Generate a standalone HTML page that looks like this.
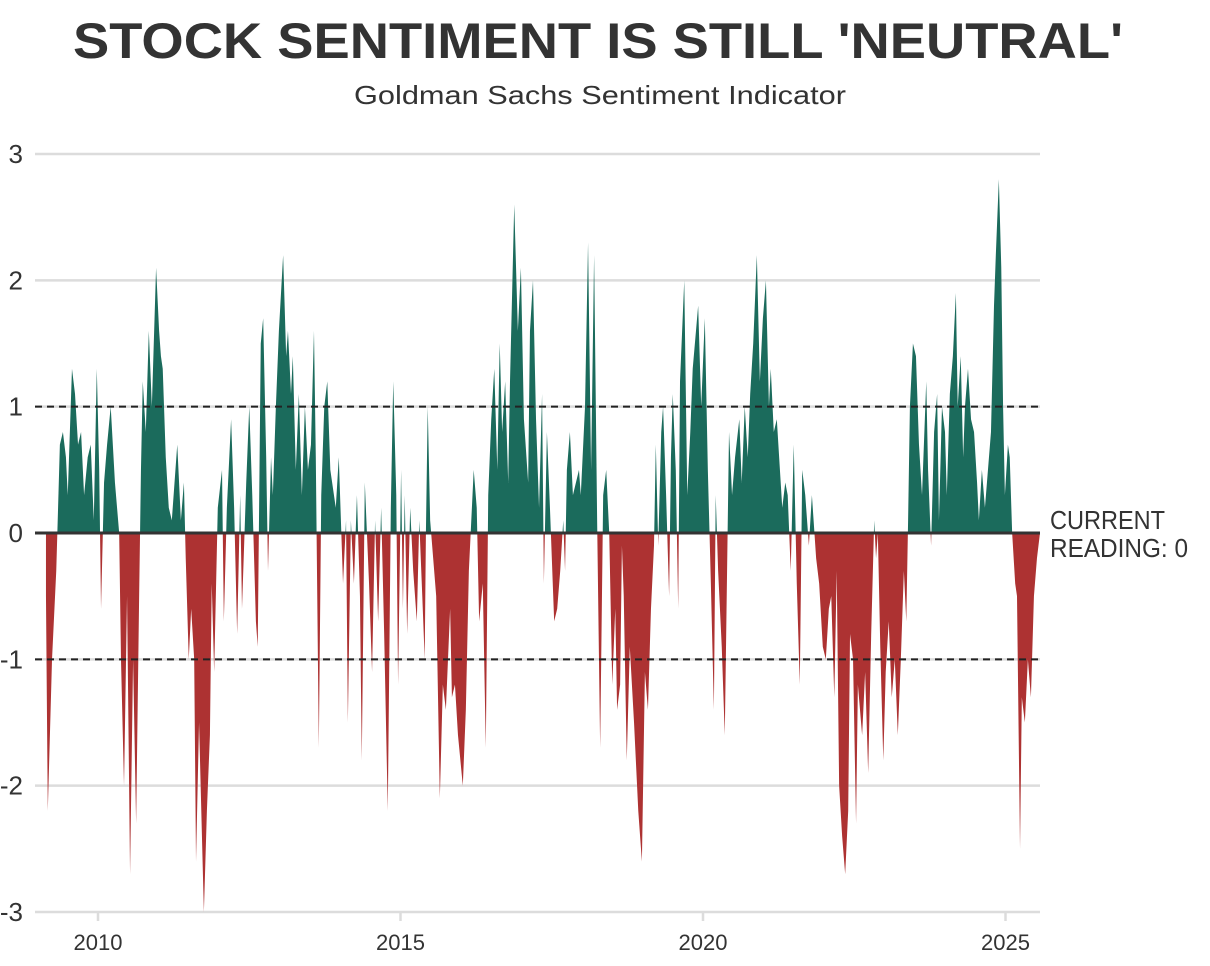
<!DOCTYPE html>
<html><head><meta charset="utf-8">
<style>
html,body{margin:0;padding:0;background:#fff;}
svg{display:block;font-family:"Liberation Sans",sans-serif;}
</style></head>
<body>
<svg id="chart" width="1210" height="966" viewBox="0 0 1210 966" xmlns="http://www.w3.org/2000/svg">
  <text x="598" y="58" text-anchor="middle" font-size="50" font-weight="bold" fill="#333" textLength="1050" lengthAdjust="spacingAndGlyphs">STOCK SENTIMENT IS STILL 'NEUTRAL'</text>
  <text x="600" y="104" text-anchor="middle" font-size="26" fill="#333" textLength="492" lengthAdjust="spacingAndGlyphs">Goldman Sachs Sentiment Indicator</text>
  <g id="grid"></g>
  <g id="marks"></g>
  <g id="overlay"></g>
  <text x="1050" y="529" font-size="26" fill="#333" textLength="115" lengthAdjust="spacingAndGlyphs">CURRENT</text>
  <text x="1050" y="557" font-size="26" fill="#333" textLength="138" lengthAdjust="spacingAndGlyphs">READING: 0</text>
</svg>
<script>
const yTicks = [3,2,1,0,-1,-2,-3];
const xTicks = [2010,2015,2020,2025];
const refLines = [1,-1];
const dates = [
2009.14,2009.17,2009.24,2009.31,2009.34,2009.37,2009.42,2009.47,2009.50,2009.57,2009.62,2009.67,2009.72,2009.77,2009.83,2009.88,2009.93,2009.98,
2010.02,2010.05,2010.10,2010.15,2010.21,2010.28,2010.35,2010.38,2010.43,2010.48,2010.53,2010.58,2010.63,2010.68,2010.71,2010.74,2010.79,2010.84,2010.89,2010.96,2011.01,
2011.04,2011.07,2011.12,2011.17,2011.22,2011.31,2011.37,2011.42,2011.45,2011.50,2011.54,2011.59,2011.62,2011.67,2011.75,2011.80,2011.85,2011.88,2011.92,2011.98,
2012.05,2012.08,2012.13,2012.20,2012.25,2012.30,2012.35,2012.38,2012.45,2012.50,2012.55,2012.61,2012.64,2012.69,2012.73,2012.78,2012.81,2012.86,2012.89,2012.94,2012.99,
2013.06,2013.11,2013.14,2013.19,2013.22,2013.27,2013.32,2013.37,2013.42,2013.47,2013.52,2013.57,2013.60,2013.65,2013.69,2013.74,2013.79,2013.84,2013.93,2013.98,
2014.05,2014.10,2014.13,2014.18,2014.23,2014.28,2014.33,2014.36,2014.41,2014.48,2014.53,2014.58,2014.63,2014.68,2014.73,2014.79,2014.84,2014.88,2014.93,2014.96,
2015.01,2015.04,2015.07,2015.11,2015.16,2015.21,2015.27,2015.31,2015.36,2015.40,2015.42,2015.45,2015.49,2015.54,2015.59,2015.65,2015.70,2015.75,2015.82,2015.85,2015.90,2015.95,
2016.03,2016.08,2016.13,2016.21,2016.26,2016.30,2016.36,2016.41,2016.45,2016.50,2016.55,2016.60,2016.64,2016.68,2016.73,2016.78,2016.81,2016.88,2016.94,2016.99,
2017.04,2017.11,2017.14,2017.19,2017.24,2017.29,2017.34,2017.37,2017.42,2017.47,2017.54,2017.59,2017.64,2017.69,2017.72,2017.75,2017.80,2017.85,2017.90,2017.95,2017.98,
2018.05,2018.10,2018.15,2018.20,2018.25,2018.30,2018.35,2018.40,2018.45,2018.50,2018.55,2018.58,2018.63,2018.66,2018.69,2018.74,2018.79,2018.86,2018.93,2018.99,
2019.04,2019.09,2019.14,2019.19,2019.22,2019.26,2019.31,2019.34,2019.39,2019.44,2019.47,2019.50,2019.55,2019.59,2019.62,2019.69,2019.74,2019.79,2019.83,2019.92,2019.97,
2020.03,2020.08,2020.13,2020.18,2020.21,2020.25,2020.31,2020.36,2020.43,2020.48,2020.53,2020.60,2020.64,2020.69,2020.74,2020.78,2020.83,2020.89,2020.94,2020.99,
2021.04,2021.09,2021.12,2021.17,2021.22,2021.31,2021.36,2021.40,2021.45,2021.50,2021.55,2021.60,2021.64,2021.69,2021.75,2021.80,2021.87,2021.92,2021.98,
2022.03,2022.08,2022.12,2022.17,2022.21,2022.25,2022.30,2022.35,2022.40,2022.43,2022.48,2022.53,2022.56,2022.63,2022.68,2022.73,2022.78,2022.83,2022.86,2022.89,2022.93,2022.98,
2023.02,2023.07,2023.12,2023.17,2023.22,2023.27,2023.32,2023.36,2023.39,2023.42,2023.47,2023.52,2023.57,2023.62,2023.69,2023.72,2023.77,2023.82,2023.87,2023.90,2023.95,
2024.00,2024.03,2024.08,2024.13,2024.18,2024.21,2024.26,2024.30,2024.33,2024.38,2024.43,2024.48,2024.53,2024.56,2024.61,2024.66,2024.71,2024.76,2024.81,2024.84,2024.89,2024.93,2024.96,2024.99,
2025.04,2025.07,2025.11,2025.16,2025.19,2025.24,2025.27,2025.32,2025.37,2025.42,2025.47,2025.52,2025.57
];
const values = [
-0.5,-2.2,-1.0,-0.3,0.2,0.7,0.8,0.6,0.3,1.3,1.1,0.7,0.8,0.3,0.6,0.7,0.1,1.3,
0.5,-0.6,0.4,0.7,1.0,0.4,0.0,-1.0,-2.0,-0.5,-2.7,-1.0,-2.3,-0.5,0.5,1.2,0.8,1.6,1.0,2.1,1.6,
1.4,1.3,0.6,0.2,0.1,0.7,0.1,0.4,-0.2,-1.0,-0.6,-1.0,-2.6,-1.5,-3.0,-2.2,-1.6,-0.4,-1.1,0.2,
0.5,-0.7,0.2,0.9,0.2,-0.8,0.3,-0.6,0.4,1.0,0.3,-0.7,-0.9,1.5,1.7,0.6,-0.3,0.6,0.3,1.0,1.6,
2.2,1.4,1.6,1.1,1.4,0.5,1.1,0.3,1.0,0.5,0.7,1.6,0.6,-1.7,0.3,1.0,1.2,0.5,0.2,0.6,
-0.4,0.1,-1.5,0.1,-0.4,0.3,-0.5,-1.8,0.4,-0.4,-1.1,0.1,-0.7,0.2,-0.8,-2.2,0.2,1.2,0.3,-1.2,
0.5,-0.6,0.3,-0.8,0.2,-0.3,-0.7,0.1,-0.5,-1.0,0.0,1.0,0.1,-0.2,-0.5,-2.1,-1.2,-1.4,-0.6,-1.3,-1.2,-1.6,
-2.0,-1.4,-0.3,0.5,0.2,-0.7,-0.4,-1.7,0.3,0.9,1.3,0.5,1.5,0.8,1.2,0.4,1.2,2.6,1.6,2.1,
0.9,0.4,1.6,2.0,0.9,0.2,1.1,-0.4,0.8,0.2,-0.7,-0.6,-0.3,0.1,-0.3,0.5,0.8,0.3,0.4,0.5,0.3,
1.0,2.3,0.5,2.2,0.1,-1.7,0.3,0.5,0.0,-1.2,-0.6,-1.4,-1.2,-0.1,-0.5,-1.8,-0.9,-1.5,-2.2,-2.6,
-1.1,-1.4,-0.6,-0.1,0.7,-0.1,0.8,1.0,0.3,-0.5,0.6,1.1,0.5,-0.6,1.2,2.0,0.3,0.8,1.3,1.8,1.0,
1.7,0.5,-0.4,-1.4,0.3,-0.3,-0.9,-1.6,0.8,0.3,0.6,0.9,0.4,1.0,0.6,1.1,1.5,2.2,1.2,1.7,
2.0,1.0,1.3,0.8,0.9,0.2,0.4,0.3,-0.3,0.7,-0.4,-1.2,0.5,0.3,-0.1,0.3,-0.2,-0.4,-0.9,
-1.0,-0.6,-0.5,-1.3,-0.3,-2.0,-2.4,-2.7,-2.2,-0.8,-1.0,-2.3,-1.2,-1.6,-1.1,-1.9,-0.8,0.1,-0.2,0.0,-0.9,-1.8,
-1.1,-0.7,-1.3,-1.0,-1.6,-1.0,-0.3,-0.7,0.1,1.0,1.5,1.4,0.7,0.3,1.2,0.5,-0.1,0.8,1.1,0.1,1.0,
0.8,0.3,1.1,1.4,1.9,1.0,1.4,0.6,1.0,1.3,0.9,0.8,0.4,0.1,0.5,0.2,0.5,0.8,1.8,2.2,2.8,2.1,1.0,0.3,
0.7,0.6,0.0,-0.4,-0.5,-2.5,-1.3,-1.5,-1.0,-1.3,-0.5,-0.2,0.0
];
</script>
<script>
const NS = "http://www.w3.org/2000/svg";
const X0 = 98, PXY = 60.5, Y0 = 533, PXV = 126.33;
function xScale(yr){ return X0 + (yr - 2010) * PXY; }
function yScale(v){ return Y0 - v * PXV; }
function mk(tag, attrs, parent){
  const e = document.createElementNS(NS, tag);
  for (const k in attrs) e.setAttribute(k, attrs[k]);
  parent.appendChild(e); return e;
}
const grid = document.getElementById('grid');
const marks = document.getElementById('marks');
const overlay = document.getElementById('overlay');
const svg = document.getElementById('chart');

yTicks.forEach(t => {
  const y = yScale(t);
  if (t !== 0) {
    const l = mk('line', {x1:35, x2:1040, y1:y, y2:y, stroke:'#dcdcdc', 'stroke-width':2.5}, grid);
    
    
  }
  const lab = mk('text', {x:23, y:y+9, 'text-anchor':'end', 'font-size':26, fill:'#333'}, grid);
  lab.textContent = t;
  
  
});
xTicks.forEach(t => {
  const x = xScale(t);
  const tk = mk('line', {x1:x, x2:x, y1:912, y2:921, stroke:'#dcdcdc', 'stroke-width':2.5}, grid);
  
  
  const lab = mk('text', {x:x, y:950, 'text-anchor':'middle', 'font-size':22, fill:'#333'}, grid);
  lab.textContent = t;
  
  
});

let d = 'M' + xScale(dates[0]).toFixed(2) + ',' + Y0;
for (let i = 0; i < dates.length; i++) d += 'L' + xScale(dates[i]).toFixed(2) + ',' + yScale(values[i]).toFixed(2);
d += 'L' + xScale(dates[dates.length-1]).toFixed(2) + ',' + Y0 + 'Z';

const defs = mk('defs', {}, svg);
const cpA = mk('clipPath', {id:'above'}, defs);
mk('rect', {x:0, y:0, width:1210, height:Y0}, cpA);
const cpB = mk('clipPath', {id:'below'}, defs);
mk('rect', {x:0, y:Y0, width:1210, height:966-Y0}, cpB);

const pos = mk('path', {d:d, fill:'#1b6b5c', 'clip-path':'url(#above)'}, marks);


const neg = mk('path', {d:d, fill:'#ad3232', 'clip-path':'url(#below)'}, marks);



refLines.forEach(r => {
  const y = yScale(r);
  const l = mk('line', {x1:35, x2:1040, y1:y, y2:y, stroke:'#222', 'stroke-width':2, 'stroke-dasharray':'7,5'}, overlay);
  
  
});
const zl = mk('line', {x1:35, x2:1040, y1:Y0, y2:Y0, stroke:'#333', 'stroke-width':3}, overlay);


</script>
</body></html>
